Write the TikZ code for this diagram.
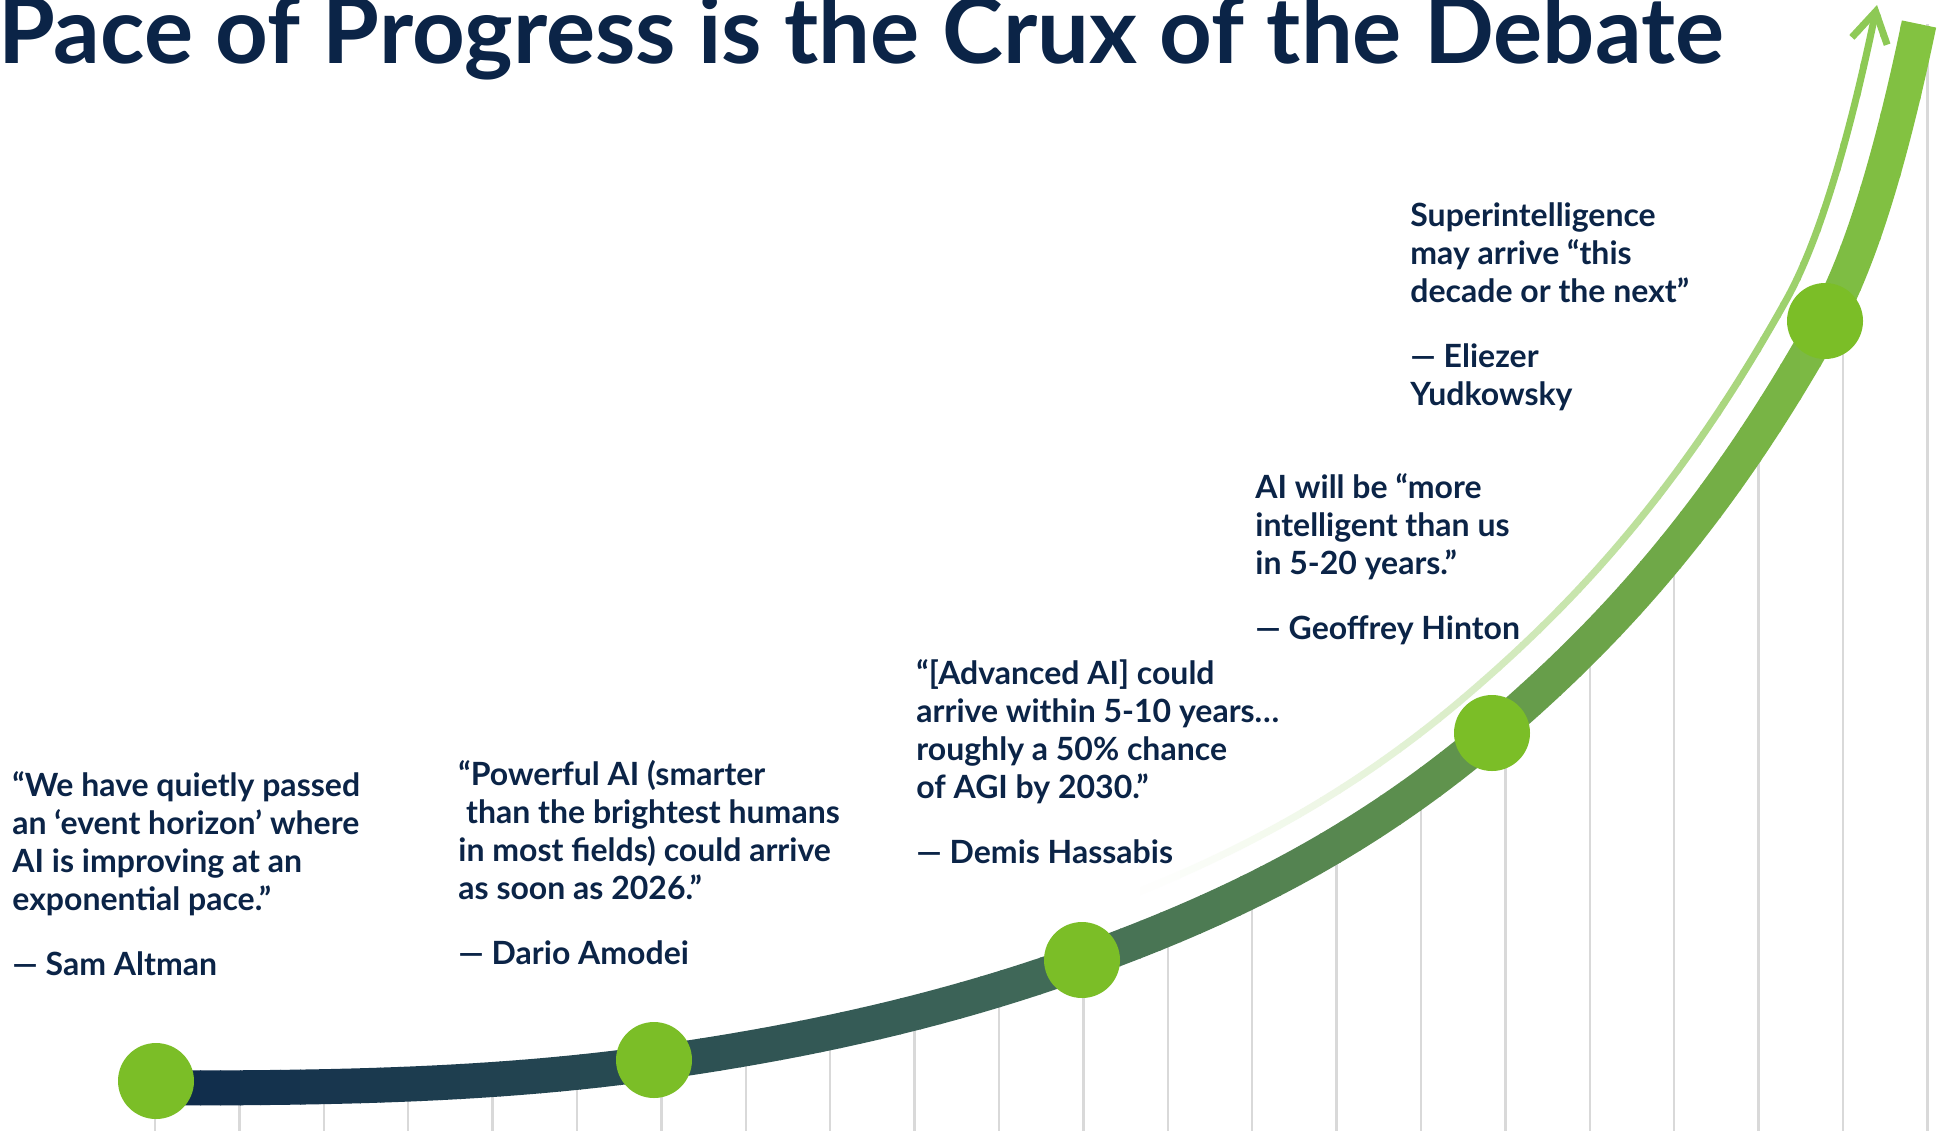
\documentclass[tikz,border=0pt]{standalone}
\usepackage{fontspec}
\setmainfont{Lato}
\usetikzlibrary{arrows.meta}
\definecolor{inkc}{rgb}{0.043,0.141,0.278}
\definecolor{navyc}{rgb}{0.055,0.165,0.294}
\definecolor{midc}{rgb}{0.243,0.400,0.345}
\definecolor{topc}{rgb}{0.518,0.769,0.255}
\definecolor{dotc}{rgb}{0.482,0.745,0.153}
\definecolor{thinc}{rgb}{0.553,0.788,0.333}
\definecolor{gridc}{rgb}{0.85,0.85,0.85}

\begin{document}
\begin{tikzpicture}[x=0.5pt, y=-0.5pt,
  quote/.style={anchor=base west, align=left, inner sep=0pt, text=inkc, font=\bfseries\fontsize{16}{19}\selectfont},
  headline/.style={anchor=base west, inner sep=0pt, text=inkc, font=\bfseries\fontsize{46}{50}\selectfont},
  milestone/.style={circle, fill=dotc, minimum size=38pt, inner sep=0pt},
  gridline/.style={draw=gridc, line width=1.2pt},
  band/.style={line width=17.5pt},
  trendarrow/.style={line width=3.5pt, -{Straight Barb[length=15pt, width=18pt]}}]

  \fill[white] (0,0) rectangle (1937,1131);
  \useasboundingbox (0,0) rectangle (1937,1131);

  \def\trendpath{(156,1088) .. controls (322,1088) and (488,1086.2) .. (654,1063)
    .. controls (796.3,1043.1) and (938.7,1013.2) .. (1081,962)
    .. controls (1218,912.7) and (1355,849.5) .. (1492,733)
    .. controls (1603.3,638.4) and (1714.7,521.3) .. (1826,321)
    .. controls (1857,265.2) and (1888,172.8) .. (1919,24)}
  \def\arrowpath{(1065.8,919.7) .. controls (1198.1,872.1) and (1330.5,811.2) .. (1462.8,698.7)
    .. controls (1570.8,606.9) and (1678.7,493.5) .. (1786.7,299.1)
    .. controls (1816.8,244.9) and (1846.9,149.5) .. (1877,5)}

  % grid under the curve
  \begin{scope}
    \clip \trendpath -- (1937,24) -- (1937,1131) -- (0,1131) -- (0,1088) -- cycle;
    \foreach \k in {0,...,21}
      \draw[gridline] (155+84.4*\k,0) -- (155+84.4*\k,1131);
  \end{scope}

  % light arrow, fading in
  \foreach \i in {0,...,42}{
    \pgfmathsetmacro{\xa}{1060+20*\i}
    \pgfmathtruncatemacro{\p}{100*(max(0,min(1,(\xa+10-1100)/760)))^1.5}
    \begin{scope}
      \clip (\xa,-20) rectangle (\xa+21,1131);
      \draw[trendarrow, draw=thinc!\p!white] \arrowpath;
    \end{scope}
  }

  % main band, navy to green
  \foreach \i in {0,...,90}{
    \pgfmathsetmacro{\xa}{120+20*\i}
    \pgfmathtruncatemacro{\p}{max(0,min(100,(\xa+10-156)/8.44))}
    \pgfmathtruncatemacro{\q}{max(0,min(100,(\xa+10-1000)/9.2))}
    \colorlet{bandc}{midc!\p!navyc}
    \colorlet{bandc}{topc!\q!bandc}
    \begin{scope}
      \clip (\xa,-20) rectangle (\xa+21,1150);
      \draw[band, draw=bandc] \trendpath;
    \end{scope}
  }

  \node[milestone] (altman) at (156,1081) {};
  \node[milestone] (amodei) at (654,1060) {};
  \node[milestone] (hassabis) at (1082,960) {};
  \node[milestone] (hinton) at (1492,733) {};
  \node[milestone] (yudkowsky) at (1825,321) {};

  \node[quote] (altmanq) at (12,975) {“We have quietly passed\\an ‘event horizon’ where\\AI is improving at an\\exponential pace.”\\[13.5pt]— Sam Altman};
  \node[quote] (amodeiq) at (458,964) {“Powerful AI (smarter\\\ than the brightest humans\\in most fields) could arrive\\as soon as 2026.”\\[13.5pt]— Dario Amodei};
  \node[quote] (hassabisq) at (916,863) {“[Advanced AI] could\\arrive within 5-10 years…\\roughly a 50\% chance\\of AGI by 2030.”\\[13.5pt]— Demis Hassabis};
  \node[quote] (hintonq) at (1255,639) {AI will be “more\\intelligent than us\\in 5-20 years.”\\[13.5pt]— Geoffrey Hinton};
  \node[quote] (yudkowskyq) at (1410,405) {Superintelligence\\may arrive “this\\decade or the next”\\[13.5pt]— Eliezer\\Yudkowsky};

  \node[headline] (title) at (-2,63) {Pace of Progress is the Crux of the Debate};
\end{tikzpicture}
\end{document}
